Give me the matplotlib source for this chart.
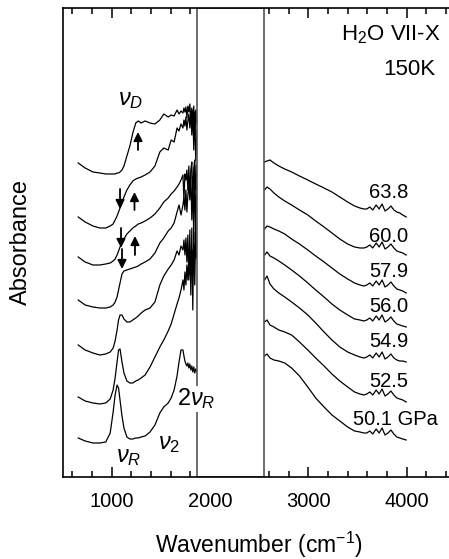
import matplotlib.pyplot as plt
from matplotlib.patches import Rectangle
from matplotlib.ticker import MultipleLocator

plt.rcParams['font.family'] = ['Liberation Sans', 'DejaVu Sans']
plt.rcParams['mathtext.fontset'] = 'custom'
plt.rcParams['mathtext.rm'] = 'Liberation Sans'
plt.rcParams['mathtext.it'] = 'Liberation Sans:italic'

# pressures (GPa), top trace first
pressures = ['63.8', '60.0', '57.9', '56.0', '54.9', '52.5', '50.1 GPa']

# low-frequency window (cm-1), offset absorbance (arb. units)
wn_low = [660, 730, 810, 880, 940, 985, 1015, 1035, 1055, 1070, 1085, 1105, 1125, 1155, 1185,
          1215, 1245, 1270, 1300, 1340, 1390, 1440, 1490, 1530, 1575, 1605, 1635, 1665, 1685,
          1705, 1725, 1735, 1745, 1755, 1765, 1775, 1785, 1795, 1805, 1815, 1825, 1835, 1845,
          1855, 1868]
low_638 = [314, 309, 305, 304, 303, 303, 303, 303, 304, 304, 305, 307, 311, 321, 331, 344, 354,
           356, 354, 356, 354, 353, 357, 363, 360, 362, 361, 367, 363, 366, 364, 369, 365, 370,
           359, 371, 365, 373, 357, 369, 347, 371, 339, 367, 352]
low_600 = [260, 255, 251, 249, 249, 251, 253, 257, 261, 265, 269, 274, 280, 287, 292, 296, 298,
           299, 300, 302, 305, 311, 325, 329, 327, 337, 335, 349, 346, 353, 349, 357, 351, 360,
           347, 356, 363, 349, 365, 342, 367, 327, 365, 317, 347]
low_579 = [220, 215, 212, 212, 213, 214, 216, 218, 222, 226, 230, 234, 238, 243, 246, 249, 251,
           253, 254, 256, 259, 263, 269, 275, 279, 283, 286, 290, 293, 297, 302, 277, 303, 297,
           307, 287, 311, 282, 307, 315, 277, 309, 317, 287, 312]
low_560 = [177, 172, 170, 169, 169, 170, 172, 175, 180, 187, 194, 203, 206, 207, 208, 209, 210,
           211, 213, 215, 218, 224, 234, 239, 246, 249, 254, 265, 272, 262, 272, 279, 267, 287,
           265, 282, 292, 277, 302, 257, 299, 237, 312, 247, 302]
low_549 = [132, 127, 124, 122, 123, 125, 129, 136, 147, 157, 162, 162, 158, 155, 155, 157, 159,
           161, 164, 167, 169, 175, 192, 201, 208, 212, 217, 226, 222, 231, 227, 237, 222, 239,
           215, 242, 197, 247, 182, 249, 167, 245, 192, 252, 217]
low_525 = [80, 76, 74, 73, 74, 78, 87, 99, 115, 127, 128, 115, 104, 96, 94, 94, 96, 97, 99, 102,
           110, 120, 130, 137, 146, 153, 163, 173, 179, 187, 197, 187, 205, 192, 212, 197, 219,
           202, 225, 207, 227, 215, 232, 219, 227]
low_501 = [39, 36, 34, 34, 35, 44, 65, 82, 92, 89, 77, 61, 49, 40, 38, 38, 39, 39, 40, 41, 45, 52,
           64, 70, 74, 79, 87, 101, 115, 127, 127, 121, 116, 113, 111, 114, 109, 113, 107, 111,
           105, 110, 104, 108, 105]

# high-frequency window (cm-1)
wn_high = [2555, 2580, 2610, 2650, 2700, 2760, 2830, 2910, 2995, 3075, 3160, 3240, 3320, 3400,
           3470, 3525, 3565, 3595, 3625, 3655, 3690, 3720, 3750, 3780, 3810, 3840, 3870, 3900,
           3930, 3960, 3995]
high_638 = [315, 316, 317, 314, 311, 308, 305, 301, 297, 293, 289, 285, 280, 275, 271, 269, 268,
            268, 270, 267, 272, 268, 273, 266, 268, 271, 267, 265, 264, 262, 260]
high_600 = [287, 290, 288, 284, 280, 276, 272, 267, 262, 256, 250, 244, 238, 233, 230, 229, 229,
            230, 232, 229, 234, 230, 235, 228, 230, 233, 229, 226, 225, 224, 222]
high_579 = [248, 251, 250, 248, 246, 243, 238, 233, 227, 221, 215, 209, 203, 198, 194, 192, 191,
            192, 194, 191, 196, 192, 197, 190, 192, 195, 191, 188, 187, 186, 184]
high_560 = [222, 225, 221, 219, 216, 212, 207, 201, 194, 187, 180, 173, 167, 162, 158, 157, 156,
            157, 159, 156, 161, 157, 162, 155, 157, 160, 156, 153, 152, 151, 150]
high_549 = [197, 201, 193, 188, 184, 180, 175, 169, 162, 154, 145, 137, 130, 125, 122, 120, 119,
            120, 122, 119, 124, 120, 125, 118, 120, 123, 119, 117, 116, 116, 115]
high_525 = [155, 157, 152, 150, 147, 145, 142, 135, 127, 119, 111, 103, 96, 90, 85, 83, 82, 83,
            85, 82, 87, 83, 88, 81, 83, 86, 82, 79, 78, 77, 75]
high_501 = [121, 123, 119, 117, 116, 114, 109, 101, 90, 79, 70, 62, 56, 50, 46, 45, 44, 44, 46,
            43, 48, 44, 49, 42, 44, 47, 43, 40, 39, 38, 37]

label_y = [284, 240, 205, 170, 135, 95, 57]

low_traces = [low_638, low_600, low_579, low_560, low_549, low_525, low_501]
high_traces = [high_638, high_600, high_579, high_560, high_549, high_525, high_501]

fig = plt.figure(figsize=(4.49, 5.59), dpi=100)
ax = fig.add_axes([0.1392, 0.1467, 0.876, 0.839])

for lo, hi in zip(low_traces, high_traces):
    ax.plot(wn_low, lo, color='black', lw=0.9)
    ax.plot(wn_high, hi, color='black', lw=0.9)

# blank window between the two spectral regions
ax.add_patch(Rectangle((1872, 0), 2550 - 1872, 469, facecolor='white',
                       edgecolor='#555555', lw=1.2, zorder=2.2))

# pressure labels
for p, y in zip(pressures, label_y):
    x = 3454 if 'GPa' in p else 3617
    ax.text(x, y, p, fontsize=14.5, va='center', ha='left')

ax.text(4342, 442, 'H$_2$O VII-X', fontsize=16, ha='right', va='center')
ax.text(4291, 407, '150K', fontsize=16, ha='right', va='center')

# mode labels
ax.text(1065, 377, r'$\nu_D$', fontsize=17, ha='left', va='center')
ax.text(1040, 20, r'$\nu_R$', fontsize=17, ha='left', va='center')
ax.text(1475, 33, r'$\nu_2$', fontsize=17, ha='left', va='center')
ax.text(1660, 78, r'2$\nu_R$', fontsize=17, ha='left', va='center', zorder=3,
        bbox=dict(facecolor='white', edgecolor='none', pad=0.5))

# arrows marking nu_D
arrows = [(1268, 327, 345), (1085, 288, 268), (1232, 267, 285),
          (1095, 249, 229), (1237, 222, 241), (1105, 228, 208)]
for x, y0, y1 in arrows:
    ax.annotate('', xy=(x, y1), xytext=(x, y0),
                arrowprops=dict(arrowstyle='-|>', color='black', lw=1.3, mutation_scale=13,
                                shrinkA=0, shrinkB=0))

ax.set_xlim(500, 4500)
ax.set_ylim(0, 469)
ax.xaxis.set_major_locator(MultipleLocator(1000))
ax.xaxis.set_minor_locator(MultipleLocator(200))
ax.tick_params(axis='x', which='both', direction='in', top=True, labelsize=14.5, pad=11)
ax.tick_params(axis='x', which='major', length=7.5, width=1.1)
ax.tick_params(axis='x', which='minor', length=4, width=1.1)
ax.set_yticks([])
for s in ax.spines.values():
    s.set_linewidth(1.2)

ax.set_xlabel('Wavenumber (cm$^{-1}$)', fontsize=16.5, labelpad=13)
ax.set_ylabel('Absorbance', fontsize=17, labelpad=22)

fig.savefig('out.png', dpi=100)
